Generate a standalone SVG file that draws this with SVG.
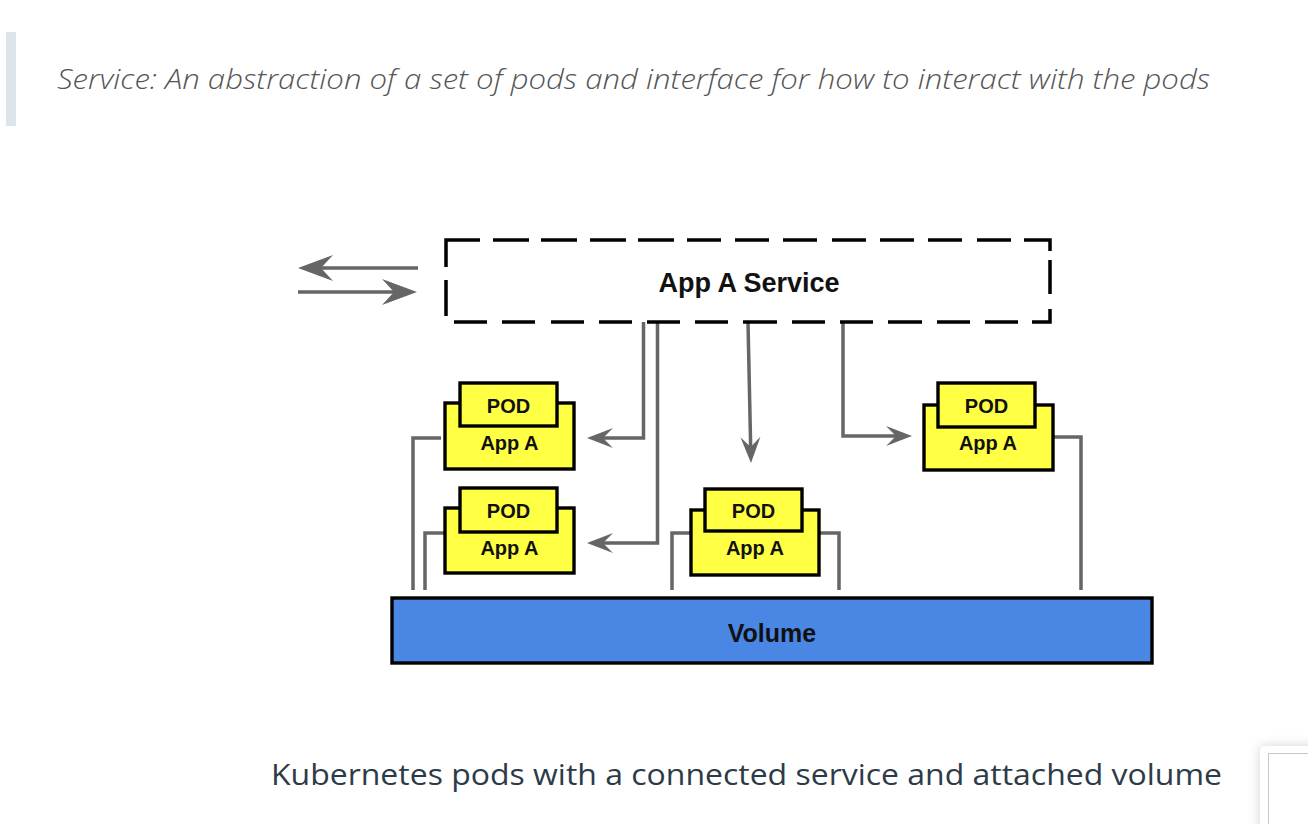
<svg xmlns="http://www.w3.org/2000/svg" width="1308" height="824" viewBox="0 0 1308 824">
  <style>
    .caption { font-family: "Open Sans", "Liberation Sans", sans-serif; font-style: italic; font-weight: 300; font-size: 27px; fill: #555; }
    .subcap { font-family: "Open Sans", "Liberation Sans", sans-serif; font-weight: 400; font-size: 29px; fill: #2d3b48; }
    .box { stroke: #000; stroke-width: 3.4; stroke-linejoin: miter; }
    .pod { fill: #ffff44; }
    .lbl { font-family: "Liberation Sans", Arial, sans-serif; font-weight: 700; fill: #111; text-anchor: middle; }
    .conn { fill: none; stroke: #666; stroke-width: 3.5; }
    .dash { fill: none; stroke: #000; stroke-width: 3.5; stroke-linecap: butt; stroke-linejoin: miter; }
  </style>
  <defs>
    <marker id="arrS" markerUnits="userSpaceOnUse" markerWidth="30" markerHeight="24" refX="12" refY="0" orient="auto" overflow="visible">
      <path d="M0,-10 L26,0 L0,10 L10,0 Z" fill="#666"/>
    </marker>
    <marker id="arrL" markerUnits="userSpaceOnUse" markerWidth="40" markerHeight="30" refX="14" refY="0" orient="auto" overflow="visible">
      <path d="M0,-13 L35,0 L0,13 L12,0 Z" fill="#666"/>
    </marker>
    <filter id="shadow" x="-50%" y="-50%" width="200%" height="200%">
      <feDropShadow dx="0" dy="0" stdDeviation="6" flood-color="#000" flood-opacity="0.18"/>
    </filter>
  </defs>

  <rect x="0" y="0" width="1308" height="824" fill="#fff"/>

  <!-- header quote -->
  <g id="header">
    <rect x="6" y="32" width="10" height="94" fill="#dde4ec"/>
    <text class="caption" x="57" y="89" textLength="1153" lengthAdjust="spacingAndGlyphs">Service: An abstraction of a set of pods and interface for how to interact with the pods</text>
  </g>

  <!-- connectors -->
  <g id="connectors">
    <line class="conn" x1="418" y1="268" x2="319" y2="268" stroke-width="5" marker-end="url(#arrL)"/>
    <line class="conn" x1="298" y1="292" x2="396" y2="292" stroke-width="5" marker-end="url(#arrL)"/>
    <path class="conn" d="M643.5,322 V438 H601" marker-end="url(#arrS)"/>
    <path class="conn" d="M657.5,322 V543 H601" marker-end="url(#arrS)"/>
    <path class="conn" d="M748,322 L750.7,449" marker-end="url(#arrS)"/>
    <path class="conn" d="M843,322 V436 H898" marker-end="url(#arrS)"/>
    <path class="conn" d="M441,438 H413 V590"/>
    <path class="conn" d="M445,533 H425 V590"/>
    <path class="conn" d="M691,533 H672 V590"/>
    <path class="conn" d="M819,533 H839 V590"/>
    <path class="conn" d="M1053,437 H1081 V590"/>
  </g>

  <!-- service -->
  <g id="service">
    <path class="dash" d="M446,267 V240 H480 M493,240 H529 M541,240 H577 M590,240 H626 M638,240 H674 M687,240 H721 M735,240 H769 M783,240 H817 M832,240 H866 M880,240 H914 M928,240 H962 M977,240 H1011 M1024,240 H1050 V251 M1050,260 V294 M1050,309 V322 H1032 M1018,322 H985 M970,322 H937 M922,322 H888 M873,322 H840 M825,322 H792 M777,322 H743 M728,322 H695 M680,322 H647 M632,322 H599 M584,322 H551 M535,322 H502 M487,322 H454 M446,316 V280"/>
    <text class="lbl" x="749" y="292" font-size="27">App A Service</text>
  </g>

  <!-- pods -->
  <g id="pod1">
    <rect class="box pod" x="445" y="403" width="129" height="66"/>
    <rect class="box pod" x="460" y="383" width="97" height="43"/>
    <text class="lbl" x="508.5" y="413" font-size="20">POD</text>
    <text class="lbl" x="509.5" y="450" font-size="20">App A</text>
  </g>
  <g id="pod2">
    <rect class="box pod" x="445" y="508" width="129" height="65"/>
    <rect class="box pod" x="460" y="488" width="97" height="44"/>
    <text class="lbl" x="508.5" y="518" font-size="20">POD</text>
    <text class="lbl" x="509.5" y="555" font-size="20">App A</text>
  </g>
  <g id="pod3">
    <rect class="box pod" x="924" y="405" width="129" height="65"/>
    <rect class="box pod" x="938" y="383" width="97" height="44"/>
    <text class="lbl" x="986.5" y="413" font-size="20">POD</text>
    <text class="lbl" x="988" y="450" font-size="20">App A</text>
  </g>
  <g id="pod4">
    <rect class="box pod" x="691" y="510" width="128" height="65"/>
    <rect class="box pod" x="705" y="489" width="97" height="42"/>
    <text class="lbl" x="753.5" y="518" font-size="20">POD</text>
    <text class="lbl" x="755" y="555" font-size="20">App A</text>
  </g>

  <!-- volume -->
  <g id="volume">
    <rect class="box" x="392" y="598" width="760" height="65" fill="#4a86e4"/>
    <text class="lbl" x="772" y="642" font-size="25">Volume</text>
  </g>

  <!-- bottom caption -->
  <g id="footer">
    <text class="subcap" x="271" y="785" textLength="951" lengthAdjust="spacingAndGlyphs">Kubernetes pods with a connected service and attached volume</text>
    <rect x="1260" y="746" width="70" height="100" rx="6" fill="#fff" filter="url(#shadow)"/>
    <rect x="1268.5" y="753.5" width="60" height="90" fill="none" stroke="#c8c8c8" stroke-width="1"/>
  </g>
</svg>
